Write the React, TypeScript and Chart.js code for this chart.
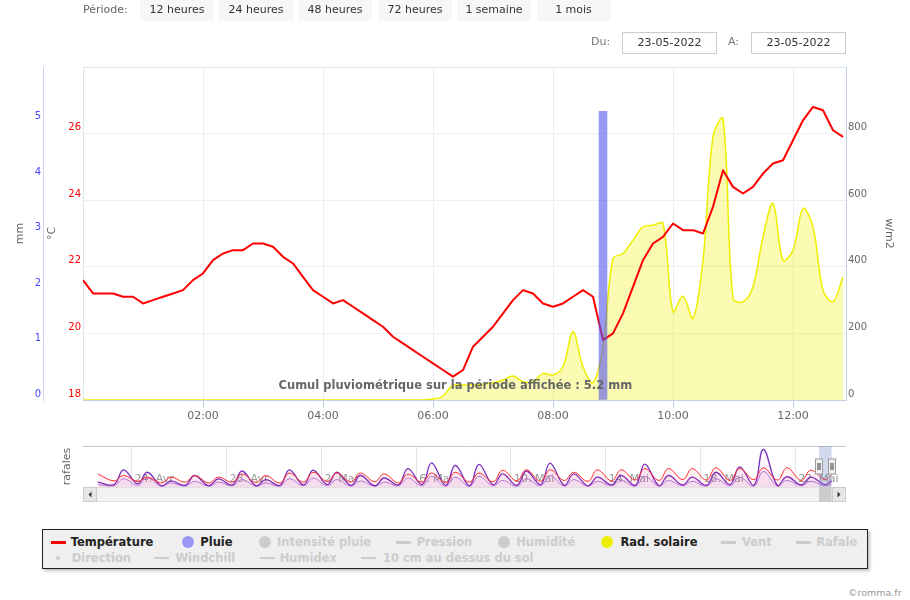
import React, { useEffect, useRef } from 'react';
import { Chart, registerables } from 'chart.js';

Chart.register(...registerables);

const FONT = '"DejaVu Sans", Verdana, sans-serif';
Chart.defaults.font.family = FONT;

// ---------- Main chart data (ordinal axis: one slot per 10-minute reading) ----------
const tempValues = [
  21.6, 21.2, 21.2, 21.2, 21.1, 21.1, 20.9, 21.0, 21.1, 21.2,
  21.3, 21.6, 21.8, 22.2, 22.4, 22.5, 22.5, 22.7, 22.7, 22.6,
  22.3, 22.1, 21.7, 21.3, 21.1, 20.9, 21.0, 20.8, 20.6, 20.4,
  20.2, 19.9, 19.7, 19.5, 19.3, 19.1, 18.9, 18.7, 18.9, 19.6,
  19.9, 20.2, 20.6, 21.0, 21.3, 21.2, 20.9, 20.8, 20.9, 21.1,
  21.3, 21.1, 19.8, 20.0, 20.6, 21.4, 22.2, 22.7, 22.9, 23.3,
  23.1, 23.1, 23.0, 23.8, 24.9, 24.4, 24.2, 24.4, 24.8, 25.1,
  25.2, 25.8, 26.4, 26.8, 26.7, 26.1, 25.9,
];
const solarValues = [
  0, 0, 0, 0, 0, 0, 0, 0, 0, 0,
  0, 0, 0, 0, 0, 0, 0, 0, 0, 0,
  0, 0, 0, 0, 0, 0, 0, 0, 0, 0,
  0, 0, 0, 0, 0, 3, 12, 45, 45, 45,
  48, 52, 60, 72, 55, 55, 80, 75, 100, 205,
  100, 52, 160, 425, 440, 480, 520, 525, 530, 265,
  312, 245, 420, 790, 845, 305, 295, 340, 490, 590,
  420, 450, 575, 520, 330, 295, 370,
];
const rainIndex = [52];
const rainValues = [5.2];
const xTickIndex = [12, 24, 35, 47, 59, 71];
const xTickLabels = ['02:00', '04:00', '06:00', '08:00', '10:00', '12:00'];
const rainTotalText = 'Cumul pluviométrique sur la période affichée : 5.2 mm';

// ---------- Navigator data (days; 24 = 24 Apr, 32 = 2 May) ----------
const navStartDay = 22.56;
const navEndDay = 53.53;
const navFirstDay = 23;
const navTickDays = [24, 28, 32, 36, 40, 44, 48, 52];
const navTickLabels = ['24. Avr', '28. Avr', '2. Mai', '6. Mai', '10. Mai', '14. Mai', '18. Mai', '22. Mai'];
const navRedMax = [28, 24, 24, 28, 24, 32, 28, 34, 36, 34, 34, 32, 31, 34, 36, 34, 41, 42, 42, 36, 42, 42, 45, 45, 45, 47, 45, 47, 47, 41];
const navRedMin = [15, 14, 10, 12, 10, 12, 11, 10, 12, 14, 12, 13, 10, 12, 11, 12, 13, 15, 14, 16, 14, 15, 17, 16, 18, 17, 16, 18, 17, 16, 18];
const navGustMax = [42, 36, 15, 28, 20, 39, 18, 42, 41, 36, 28, 22, 45, 59, 53, 55, 32, 39, 58, 32, 24, 28, 56, 28, 24, 36, 49, 92, 25, 24];
const navGustMin = [6, 8, 3, 4, 3, 5, 3, 4, 5, 6, 4, 3, 5, 6, 4, 3, 5, 4, 6, 4, 3, 5, 4, 3, 5, 4, 6, 4, 3, 5, 6];
const navWindMax = [20, 22, 10, 14, 12, 18, 10, 20, 22, 18, 15, 12, 22, 26, 24, 26, 16, 20, 28, 18, 14, 16, 26, 16, 14, 20, 24, 38, 16, 14];
const navWindMin = [3, 4, 2, 2, 2, 3, 2, 2, 3, 3, 2, 2, 3, 3, 2, 2, 3, 2, 3, 2, 2, 3, 2, 2, 3, 2, 3, 2, 2, 3, 3];
const navStartValues = { red: 32, gust: 12, wind: 6 };
const navEndValues = { red: 30, gust: 15, wind: 8 };
const navMaskStart = 53.0;
const navMaskEnd = 53.53;

const periodButtons = ['12 heures', '24 heures', '48 heures', '72 heures', '1 semaine', '1 mois'];
const dateFrom = '23-05-2022';
const dateTo = '23-05-2022';

function navSeries(start: number, mins: number[], maxs: number[], end: number) {
  const pts: { x: number; y: number }[] = [{ x: navStartDay, y: start }];
  for (let i = 0; i < mins.length; i++) {
    const d = navFirstDay + i;
    pts.push({ x: d + 0.25, y: mins[i] });
    if (i < maxs.length) pts.push({ x: d + 0.65, y: maxs[i] });
  }
  pts.push({ x: navEndDay, y: end });
  return pts;
}

const mainDecor = {
  id: 'mainDecor',
  beforeDatasetsDraw(chart: any) {
    const { ctx, chartArea: a } = chart;
    ctx.save();
    ctx.strokeStyle = '#d9e6ee';
    ctx.lineWidth = 1;
    ctx.beginPath();
    ctx.moveTo(Math.round(a.left) + 0.5, a.bottom);
    ctx.lineTo(Math.round(a.left) + 0.5, Math.round(a.top) + 0.5);
    ctx.lineTo(a.right, Math.round(a.top) + 0.5);
    ctx.stroke();
    ctx.restore();
  },
  afterDatasetsDraw(chart: any) {
    const { ctx, chartArea: a } = chart;
    ctx.save();
    ctx.font = `bold 11.5px ${FONT}`;
    ctx.fillStyle = '#666666';
    ctx.textAlign = 'center';
    ctx.textBaseline = 'middle';
    ctx.fillText(rainTotalText, a.left + (a.right - a.left) * 0.488, a.bottom - 14);
    ctx.restore();
  },
};

const navDecor = {
  id: 'navDecor',
  beforeDatasetsDraw(chart: any) {
    const { ctx, chartArea: a, scales } = chart;
    const x = scales.x;
    ctx.save();
    ctx.font = `11px ${FONT}`;
    ctx.fillStyle = '#9a9a9a';
    ctx.textAlign = 'left';
    ctx.textBaseline = 'middle';
    navTickDays.forEach((d, i) => {
      ctx.fillText(navTickLabels[i], x.getPixelForValue(d) + 3, a.bottom - 8);
    });
    ctx.restore();
  },
  afterDatasetsDraw(chart: any) {
    const { ctx, chartArea: a, scales } = chart;
    const x = scales.x;
    const x1 = x.getPixelForValue(navMaskStart);
    const x2 = x.getPixelForValue(navMaskEnd);
    ctx.save();
    // top outline
    ctx.strokeStyle = '#c8c8c8';
    ctx.lineWidth = 1;
    ctx.beginPath();
    ctx.moveTo(a.left, Math.round(a.top) + 0.5);
    ctx.lineTo(a.right, Math.round(a.top) + 0.5);
    ctx.stroke();
    // mask
    ctx.fillStyle = 'rgba(102,133,194,0.3)';
    ctx.fillRect(x1, a.top, x2 - x1, a.bottom - a.top);
    // scrollbar
    const sy = a.bottom;
    const sh = 15;
    ctx.fillStyle = '#f2f2f2';
    ctx.fillRect(a.left, sy, a.right - a.left, sh);
    ctx.strokeStyle = '#e0e0e0';
    ctx.strokeRect(a.left + 0.5, sy + 0.5, a.right - a.left - 1, sh - 1);
    const bw = 14;
    // thumb
    ctx.fillStyle = '#cccccc';
    ctx.fillRect(x1, sy, Math.min(x2, a.right - bw) - x1, sh);
    // buttons
    [a.left, a.right - bw].forEach((bx: number, i: number) => {
      ctx.fillStyle = '#e6e6e6';
      ctx.fillRect(bx, sy, bw, sh);
      ctx.strokeStyle = '#cccccc';
      ctx.strokeRect(Math.round(bx) + 0.5, sy + 0.5, bw - 1, sh - 1);
      ctx.fillStyle = '#333333';
      const cx = bx + bw / 2;
      const cy = sy + sh / 2;
      ctx.beginPath();
      if (i === 0) {
        ctx.moveTo(cx + 1.5, cy - 3);
        ctx.lineTo(cx - 1.5, cy);
        ctx.lineTo(cx + 1.5, cy + 3);
      } else {
        ctx.moveTo(cx - 1.5, cy - 3);
        ctx.lineTo(cx + 1.5, cy);
        ctx.lineTo(cx - 1.5, cy + 3);
      }
      ctx.closePath();
      ctx.fill();
    });
    // handles
    const hy = (a.top + a.bottom) / 2 - 7.5;
    [x1, x2].forEach((hx: number) => {
      const l = Math.round(hx - 3.5) + 0.5;
      ctx.fillStyle = '#f2f2f2';
      ctx.fillRect(l, hy, 7, 15);
      ctx.strokeStyle = '#999999';
      ctx.strokeRect(l, hy, 7, 15);
      ctx.strokeStyle = '#333333';
      ctx.beginPath();
      ctx.moveTo(l + 2.5, hy + 4);
      ctx.lineTo(l + 2.5, hy + 11);
      ctx.moveTo(l + 4.5, hy + 4);
      ctx.lineTo(l + 4.5, hy + 11);
      ctx.stroke();
    });
    ctx.restore();
  },
};

const legendItems = [
  { label: 'Température', kind: 'line', color: '#ff0000', active: true, sx: 50.6, tx: 70.7, row: 0 },
  { label: 'Pluie', kind: 'circle', color: '#9999f5', active: true, sx: 181.8, tx: 200.3, row: 0 },
  { label: 'Intensité pluie', kind: 'circle', color: '', active: false, sx: 258.5, tx: 277, row: 0 },
  { label: 'Pression', kind: 'line', color: '', active: false, sx: 396, tx: 416.7, row: 0 },
  { label: 'Humidité', kind: 'circle', color: '', active: false, sx: 497.7, tx: 516.2, row: 0 },
  { label: 'Rad. solaire', kind: 'circle', color: '#eeee00', active: true, sx: 600.8, tx: 620.4, row: 0 },
  { label: 'Vent', kind: 'line', color: '', active: false, sx: 721, tx: 742, row: 0 },
  { label: 'Rafale', kind: 'line', color: '', active: false, sx: 795.6, tx: 816.2, row: 0 },
  { label: 'Direction', kind: 'dot', color: '', active: false, sx: 55.9, tx: 71.7, row: 1 },
  { label: 'Windchill', kind: 'line', color: '', active: false, sx: 153.8, tx: 175.4, row: 1 },
  { label: 'Humidex', kind: 'line', color: '', active: false, sx: 259.6, tx: 279.7, row: 1 },
  { label: '10 cm au dessus du sol', kind: 'line', color: '', active: false, sx: 361, tx: 382.9, row: 1 },
];
const legendRowY = [542.3, 557.7];

export default function App() {
  const mainRef = useRef<HTMLCanvasElement>(null);
  const navRef = useRef<HTMLCanvasElement>(null);

  useEffect(() => {
    const main = new Chart(mainRef.current as HTMLCanvasElement, {
      type: 'line',
      data: {
        datasets: [
          {
            type: 'bar',
            label: 'Pluie',
            order: 0,
            yAxisID: 'mm',
            xAxisID: 'x',
            data: rainIndex.map((x, i) => ({ x, y: rainValues[i] })),
            backgroundColor: 'rgba(80,80,240,0.58)',
            borderWidth: 0,
            barThickness: 8,
          } as any,
          {
            type: 'line',
            label: 'Température',
            order: 1,
            yAxisID: 'temp',
            xAxisID: 'x',
            data: tempValues.map((y, i) => ({ x: i, y })),
            borderColor: '#ff0000',
            borderWidth: 2,
            borderJoinStyle: 'round',
            pointRadius: 0,
            tension: 0,
            fill: false,
          } as any,
          {
            type: 'line',
            label: 'Rad. solaire',
            order: 2,
            yAxisID: 'sol',
            xAxisID: 'x',
            data: solarValues.map((y, i) => ({ x: i, y })),
            borderColor: '#eeee00',
            borderWidth: 1.5,
            backgroundColor: 'rgba(240,240,0,0.3)',
            fill: 'origin',
            pointRadius: 0,
            tension: 0.35,
          } as any,
        ],
      },
      options: {
        responsive: false,
        animation: false,
        events: [],
        layout: { padding: { left: 12, right: 14, top: 67, bottom: 8 } },
        plugins: { legend: { display: false }, tooltip: { enabled: false } },
        scales: {
          x: {
            type: 'linear',
            min: 0,
            max: 76.3,
            offset: false,
            afterBuildTicks: (s: any) => {
              s.ticks = xTickIndex.map((v) => ({ value: v }));
            },
            afterFit: (s: any) => {
              s.height = 22;
            },
            border: { color: '#c0d0e0' },
            grid: { offset: false, color: '#e9eef5', tickColor: '#c0d0e0', tickLength: 8, drawTicks: true },
            ticks: {
              color: '#666666',
              font: { size: 11 },
              padding: 2,
              autoSkip: false,
              maxRotation: 0,
              callback: (v: any) => {
                const i = xTickIndex.indexOf(Number(v));
                return i >= 0 ? xTickLabels[i] : '';
              },
            },
          },
          temp: {
            type: 'linear',
            position: 'left',
            weight: 0,
            min: 18,
            max: 28,
            afterFit: (s: any) => {
              s.width = 40;
            },
            ticks: {
              stepSize: 2,
              color: '#ff0000',
              font: { size: 10 },
              padding: 2,
              labelOffset: -6,
              callback: (v: any) => (Number(v) === 28 ? '' : String(v)),
            },
            grid: { color: '#eeeeee', drawTicks: false },
            border: { display: false },
            title: { display: true, text: '°C', color: '#666666', font: { size: 11 }, padding: { top: 3, bottom: 1 } },
          },
          mm: {
            type: 'linear',
            position: 'left',
            weight: 1,
            min: 0,
            max: 6,
            afterFit: (s: any) => {
              s.width = 31;
            },
            ticks: {
              stepSize: 1,
              color: '#4848ff',
              font: { size: 10 },
              padding: 2,
              labelOffset: -6,
              callback: (v: any) => (Number(v) === 6 ? '' : String(v)),
            },
            grid: { drawOnChartArea: false, drawTicks: false },
            border: { color: '#c8d4f2' },
            title: { display: true, text: 'mm', color: '#666666', font: { size: 11 }, padding: { top: 2, bottom: 1 } },
          },
          sol: {
            type: 'linear',
            position: 'right',
            min: 0,
            max: 1000,
            afterFit: (s: any) => {
              s.width = 50;
            },
            ticks: {
              stepSize: 200,
              color: '#666666',
              font: { size: 10 },
              padding: 2,
              labelOffset: -6,
              callback: (v: any) => (Number(v) === 1000 ? '' : String(v)),
            },
            grid: { drawOnChartArea: false, drawTicks: false },
            border: { color: '#c0d0e0' },
            title: { display: true, text: 'w/m2', color: '#666666', font: { size: 11 }, padding: { top: 1, bottom: 1 } },
          },
        },
      } as any,
      plugins: [mainDecor],
    });

    const nav = new Chart(navRef.current as HTMLCanvasElement, {
      type: 'line',
      data: {
        datasets: [
          {
            data: navSeries(navStartValues.red, navRedMin, navRedMax, navEndValues.red),
            borderColor: '#ff2a2a',
            borderWidth: 1,
            backgroundColor: 'rgba(255,0,60,0.06)',
            fill: 'origin',
            pointRadius: 0,
            tension: 0.4,
          },
          {
            data: navSeries(navStartValues.gust, navGustMin, navGustMax, navEndValues.gust),
            borderColor: '#7a2fc0',
            borderWidth: 1.3,
            backgroundColor: 'rgba(150,60,180,0.05)',
            fill: 'origin',
            pointRadius: 0,
            tension: 0.4,
          },
          {
            data: navSeries(navStartValues.wind, navWindMin, navWindMax, navEndValues.wind),
            borderColor: '#b07ce0',
            borderWidth: 1,
            backgroundColor: 'rgba(190,110,200,0.08)',
            fill: 'origin',
            pointRadius: 0,
            tension: 0.4,
          },
        ] as any,
      },
      options: {
        responsive: false,
        animation: false,
        events: [],
        layout: { padding: { left: 60, right: 64, top: 6, bottom: 23 } },
        plugins: { legend: { display: false }, tooltip: { enabled: false } },
        scales: {
          x: {
            type: 'linear',
            min: 21.94,
            max: 54.14,
            afterBuildTicks: (s: any) => {
              s.ticks = navTickDays.map((v) => ({ value: v }));
            },
            afterFit: (s: any) => {
              s.height = 0;
            },
            ticks: { display: false },
            grid: { color: '#e6e6e6', drawTicks: false },
            border: { display: false },
          },
          y: {
            type: 'linear',
            min: 0,
            max: 100,
            afterFit: (s: any) => {
              s.width = 23;
            },
            ticks: { display: false },
            grid: { display: false },
            border: { display: false },
            title: { display: true, text: 'rafales', color: '#666666', font: { size: 11 }, padding: { top: 1, bottom: 1 } },
          },
        },
      } as any,
      plugins: [navDecor],
    });

    return () => {
      main.destroy();
      nav.destroy();
    };
  }, []);

  const btnLefts = [140, 219, 298, 378, 457, 536.5];

  return (
    <div
      style={{
        position: 'fixed',
        left: 0,
        top: 0,
        width: 910,
        height: 600,
        background: '#ffffff',
        fontFamily: FONT,
        overflow: 'hidden',
      }}
    >
      <canvas ref={mainRef} width={910} height={430} style={{ position: 'absolute', left: 0, top: 0, display: 'block' }} />
      <canvas ref={navRef} width={910} height={70} style={{ position: 'absolute', left: 0, top: 440, display: 'block' }} />

      <div style={{ position: 'absolute', left: 83, top: 0, height: 20, lineHeight: '20px', fontSize: 11, color: '#666' }}>
        Période:
      </div>
      {periodButtons.map((b, i) => (
        <div
          key={b}
          style={{
            position: 'absolute',
            left: btnLefts[i],
            top: 0,
            width: 74,
            height: 21,
            lineHeight: '19px',
            background: '#f7f7f7',
            textAlign: 'center',
            fontSize: 11,
            color: '#333',
          }}
        >
          {b}
        </div>
      ))}

      <div style={{ position: 'absolute', left: 591, top: 33, lineHeight: '18px', fontSize: 11, color: '#777' }}>Du:</div>
      <div
        style={{
          position: 'absolute',
          left: 622,
          top: 32,
          width: 95,
          height: 22,
          boxSizing: 'border-box',
          border: '1px solid #cccccc',
          textAlign: 'center',
          lineHeight: '19px',
          fontSize: 11,
          color: '#333',
        }}
      >
        {dateFrom}
      </div>
      <div style={{ position: 'absolute', left: 728, top: 33, lineHeight: '18px', fontSize: 11, color: '#777' }}>A:</div>
      <div
        style={{
          position: 'absolute',
          left: 751,
          top: 32,
          width: 95,
          height: 22,
          boxSizing: 'border-box',
          border: '1px solid #cccccc',
          textAlign: 'center',
          lineHeight: '19px',
          fontSize: 11,
          color: '#333',
        }}
      >
        {dateTo}
      </div>

      <div
        style={{
          position: 'absolute',
          left: 42,
          top: 529,
          width: 826,
          height: 40,
          boxSizing: 'border-box',
          border: '1px solid #222',
          background: '#efefef',
          boxShadow: '2px 2px 3px rgba(0,0,0,0.25)',
        }}
      />
      {legendItems.map((it) => {
        const cy = legendRowY[it.row];
        const col = it.active ? it.color : '#cccccc';
        let sym: any = null;
        if (it.kind === 'line') {
          sym = (
            <div style={{ position: 'absolute', left: it.sx, top: cy - 1, width: 15, height: 2.5, background: col }} />
          );
        } else if (it.kind === 'circle') {
          sym = (
            <div
              style={{ position: 'absolute', left: it.sx, top: cy - 6, width: 12, height: 12, borderRadius: '50%', background: col }}
            />
          );
        } else {
          sym = (
            <div
              style={{ position: 'absolute', left: it.sx, top: cy - 2, width: 4, height: 4, borderRadius: '50%', background: col }}
            />
          );
        }
        return (
          <React.Fragment key={it.label}>
            {sym}
            <div
              style={{
                position: 'absolute',
                left: it.tx,
                top: cy - 8,
                height: 16,
                lineHeight: '16px',
                fontSize: 11.5,
                fontWeight: 'bold',
                whiteSpace: 'nowrap',
                color: it.active ? '#222' : '#cccccc',
              }}
            >
              {it.label}
            </div>
          </React.Fragment>
        );
      })}

      <div style={{ position: 'absolute', left: 848, top: 586, fontSize: 9.5, lineHeight: '14px', color: '#999' }}>©romma.fr</div>
    </div>
  );
}
